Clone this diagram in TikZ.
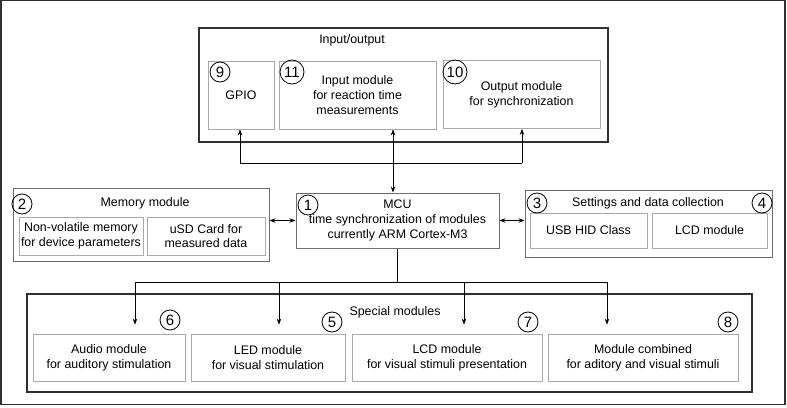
\documentclass[tikz,border=0pt]{standalone}
\usepackage{fontspec}
\setmainfont{Liberation Sans}
\usetikzlibrary{arrows.meta}
\definecolor{dk}{HTML}{303030}
\definecolor{md}{HTML}{6E6E6E}
\definecolor{lt}{HTML}{AAAAAA}
\begin{document}
\begin{tikzpicture}[x=1pt,y=-1pt,
  every node/.style={font=\fontsize{12.4}{14.6}\selectfont, text=black},
  inbox/.style={draw=lt, line width=0.8pt, inner sep=0pt, align=center},
  midbox/.style={draw=md, line width=1pt, inner sep=0pt, align=center},
  bigbox/.style={draw=dk, line width=1.8pt, inner sep=0pt},
  num/.style={circle, draw=black, line width=0.8pt, inner sep=1pt, minimum size=20pt, font=\fontsize{15}{15}\selectfont},
  conn/.style={line width=0.8pt, draw=black},
  tip/.style={-{Stealth[length=6pt,width=4.5pt]}},
  tips/.style={{Stealth[length=6pt,width=4.5pt]}-{Stealth[length=6pt,width=4.5pt]}}]
\useasboundingbox (0,0) rectangle (787,407);
\draw[draw=dk, line width=1.5pt] (0.8,0.6) rectangle (785,404.3);

% Input/output
\node[bigbox, minimum width=409pt, minimum height=114pt] (io) at (403.5,85) {};
\node (iot) at (352,40) {Input/output};
\node[inbox, minimum width=66pt, minimum height=68pt] (gpio) at (241,95) {GPIO};
\node[inbox, minimum width=157pt, minimum height=68pt] (input) at (357.5,95) {Input module\\for reaction time\\measurements};
\node[inbox, minimum width=157pt, minimum height=68pt] (output) at (521.5,94.5) {Output module\\for synchronization};
\node[num] (n9) at (220,72) {9};
\node[num, minimum size=24pt] (n11) at (292,72) {11};
\node[num, minimum size=24pt] (n10) at (455,72) {10};

% Memory
\node[midbox, minimum width=256pt, minimum height=73pt] (mem) at (141,224.5) {};
\node (memt) at (145,203) {Memory module};
\node[inbox, minimum width=124pt, minimum height=38pt] (nv) at (81,236) {Non-volatile memory\\for device parameters};
\node[inbox, minimum width=118pt, minimum height=38pt] (usd) at (206,236) {uSD Card for\\measured data};
\node[num] (n2) at (22,204) {2};

% MCU
\node[midbox, minimum width=203pt, minimum height=55pt] (mcu) at (397.5,220.5) {MCU\\time synchronization of modules\\currently ARM Cortex-M3};
\node[num] (n1) at (308,205) {1};

% Settings
\node[midbox, minimum width=247pt, minimum height=67pt] (set) at (648.5,223.5) {};
\node (sett) at (648,203) {Settings and data collection};
\node[inbox, minimum width=117pt, minimum height=35pt] (usb) at (588.5,230.5) {USB HID Class};
\node[inbox, minimum width=115pt, minimum height=35pt] (lcdm) at (709.5,230.5) {LCD module};
\node[num] (n3) at (537,203) {3};
\node[num] (n4) at (762,203) {4};

% Special modules
\node[bigbox, minimum width=725pt, minimum height=98pt] (spec) at (389.5,343) {};
\node (spect) at (395,312) {Special modules};
\node[inbox, minimum width=152pt, minimum height=47pt] (audio) at (109,357.5) {Audio module\\for auditory stimulation};
\node[inbox, minimum width=154pt, minimum height=47pt] (led) at (268,357.5) {LED module\\for visual stimulation};
\node[inbox, minimum width=190pt, minimum height=47pt] (lcd) at (447,357.5) {LCD module\\for visual stimuli presentation};
\node[inbox, minimum width=190pt, minimum height=47pt] (comb) at (643,357.5) {Module combined\\for aditory and visual stimuli};
\node[num] (n6) at (170,320) {6};
\node[num] (n5) at (332,322) {5};
\node[num] (n7) at (528,322) {7};
\node[num] (n8) at (728,322) {8};

% top bus
\coordinate (b1) at (240,163);
\coordinate (b2) at (393,163);
\coordinate (b3) at (522,163);
\draw[conn] (b1) -- (b3);
\draw[conn, tip] (b1) -- (b1 |- gpio.south);
\draw[conn, tip] (b3) -- (b3 |- output.south);
\draw[conn, tips] (b2 |- mcu.north) -- (b2 |- input.south);

% side links
\draw[conn, tips] (mcu.west -| mem.east) -- (mcu.west);
\draw[conn, tips] (mcu.east) -- (mcu.east -| set.west);

% bottom bus
\coordinate (a1) at (135,282);
\coordinate (a2) at (279,282);
\coordinate (a3) at (464,282);
\coordinate (a4) at (607,282);
\draw[conn] (mcu.south) -- (mcu.south |- a1);
\draw[conn] (a1) -- (a4);
\draw[conn, tip] (a1) -- ([yshift=9pt]a1 |- audio.north);
\draw[conn, tip] (a2) -- ([yshift=9pt]a2 |- led.north);
\draw[conn, tip] (a3) -- ([yshift=9pt]a3 |- lcd.north);
\draw[conn, tip] (a4) -- ([yshift=9pt]a4 |- comb.north);
\end{tikzpicture}
\end{document}
